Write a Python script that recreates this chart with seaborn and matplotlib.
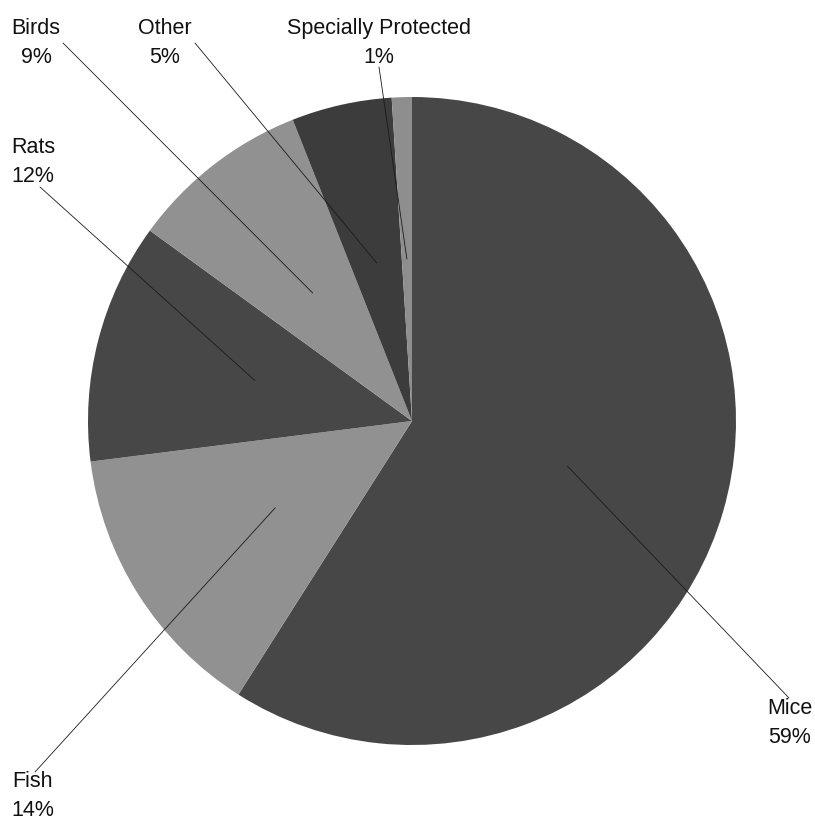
import matplotlib
matplotlib.use("Agg")
import matplotlib.pyplot as plt
import seaborn as sns
import numpy as np

categories = ["Mice", "Fish", "Rats", "Birds", "Other", "Specially Protected"]
values = [59, 14, 12, 9, 5, 1]
pct_labels = ["59%", "14%", "12%", "9%", "5%", "1%"]

sns.set_theme(style="white")
plt.rcParams["font.family"] = ["Liberation Sans", "DejaVu Sans"]

colors = ["#474747", "#919191", "#474747", "#919191", "#3c3c3c", "#8e8e8e"]

W, H = 815, 821
fig = plt.figure(figsize=(W / 100, H / 100), dpi=100)
ax = fig.add_axes([0, 0, 1, 1])

cx, cy, R = 412, H - 421, 324
wedges, _ = ax.pie(values, colors=colors, startangle=90, counterclock=False,
                   center=(cx, cy), radius=R, frame=True,
                   wedgeprops=dict(linewidth=0))
ax.set_xlim(0, W)
ax.set_ylim(0, H)
ax.set_aspect("equal")
ax.axis("off")

# label layout (pixel coords, top-origin): line end point and text block center
line_ends = [(789, 698), (35, 772), (40, 187), (63, 43), (195, 43), (379, 67)]
text_pos = [(790, 723), (33, 796), (33, 162), (36, 43), (165, 43), (379, 43)]

for w, le, tp, cat, pl in zip(wedges, line_ends, text_pos, categories, pct_labels):
    ang = np.deg2rad((w.theta1 + w.theta2) / 2)
    sx = cx + 0.5 * R * np.cos(ang)
    sy = cy + 0.5 * R * np.sin(ang)
    ax.plot([sx, le[0]], [sy, H - le[1]], color="#1a1a1a", lw=0.6)
    ax.text(tp[0], H - tp[1], f"{cat}\n{pl}", ha="center", va="center",
            fontsize=15.5, color="#111111", linespacing=1.5)

fig.savefig("out.png", dpi=100)
